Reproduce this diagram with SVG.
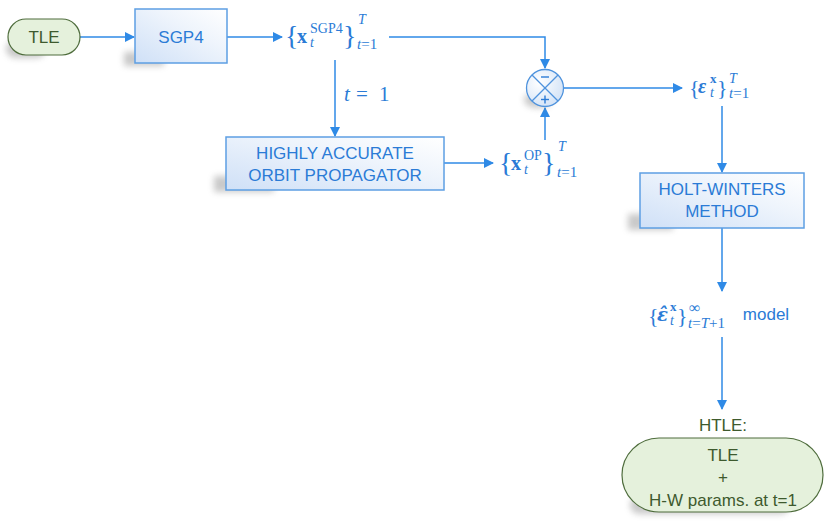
<svg xmlns="http://www.w3.org/2000/svg" width="831" height="521" viewBox="0 0 831 521">
<defs>
<linearGradient id="boxg" x1="0" y1="1" x2="1" y2="0">
<stop offset="0" stop-color="#cfe0f7"/>
<stop offset="0.6" stop-color="#eef4fc"/>
<stop offset="1" stop-color="#ffffff"/>
</linearGradient>
<radialGradient id="circg" cx="0.35" cy="0.35" r="0.7">
<stop offset="0" stop-color="#ffffff"/>
<stop offset="1" stop-color="#d3e3f7"/>
</radialGradient>
<filter id="sh" x="-30%" y="-50%" width="160%" height="200%">
<feGaussianBlur stdDeviation="3"/>
</filter>
<marker id="ah" viewBox="0 0 10 10" refX="9" refY="5" markerWidth="10" markerHeight="10" markerUnits="userSpaceOnUse" orient="auto">
<path d="M0,0 L10,5 L0,10 z" fill="#2f8ae6"/>
</marker>
</defs>
<style>
.box{fill:url(#boxg);stroke:#5d9fe3;stroke-width:1.5}
.pill{fill:#e5f1dc;stroke:#4f6d3d;stroke-width:1.2}
.sh{fill:#666;opacity:0.35;filter:url(#sh)}
.lbl{font-family:"Liberation Sans",Arial,sans-serif;font-size:17px;fill:#2b7bd6;text-anchor:middle}
.glbl{font-family:"Liberation Sans",Arial,sans-serif;font-size:17px;fill:#3e5a2e;text-anchor:middle}
.m{font-family:"Liberation Serif","DejaVu Serif",serif;fill:#2b7bd6}
.c{fill:none;stroke:#2f8ae6;stroke-width:1.5}
</style>

<g id="connectors">
<line class="c" x1="80" y1="37" x2="134" y2="37" marker-end="url(#ah)"/>
<line class="c" x1="227" y1="37" x2="282" y2="37" marker-end="url(#ah)"/>
<polyline class="c" points="389,37 545,37 545,68" marker-end="url(#ah)"/>
<line class="c" x1="335" y1="60" x2="335" y2="136" marker-end="url(#ah)"/>
<line class="c" x1="444" y1="163" x2="493" y2="163" marker-end="url(#ah)"/>
<line class="c" x1="545" y1="140" x2="545" y2="108" marker-end="url(#ah)"/>
<line class="c" x1="564" y1="88" x2="682" y2="88" marker-end="url(#ah)"/>
<line class="c" x1="722" y1="106" x2="722" y2="172" marker-end="url(#ah)"/>
<line class="c" x1="722" y1="228" x2="722" y2="291" marker-end="url(#ah)"/>
<line class="c" x1="722" y1="337" x2="722" y2="409" marker-end="url(#ah)"/>
</g>

<g id="tle">
<rect class="sh" x="6" y="40" width="40" height="18" rx="9"/>
<rect class="pill" x="8" y="19" width="72" height="36" rx="18"/>
<text class="glbl" x="44" y="43">TLE</text>
</g>

<g id="sgp4">
<rect class="sh" x="124" y="52" width="40" height="14"/>
<rect class="box" x="135" y="9" width="92" height="54"/>
<text class="lbl" x="181" y="43">SGP4</text>
</g>

<g id="xsgp4">
<text class="m" x="285" y="45" font-size="28">{</text>
<text class="m" x="297" y="43" font-size="20" font-weight="bold">x</text>
<text class="m" x="310" y="33" font-size="14">SGP4</text>
<text class="m" x="310" y="47" font-size="14" font-style="italic">t</text>
<text class="m" x="343" y="45" font-size="28">}</text>
<text class="m" x="358" y="24" font-size="14" font-style="italic">T</text>
<text class="m" x="357" y="49" font-size="15"><tspan font-style="italic">t</tspan>=1</text>
</g>

<g id="t1">
<text class="m" x="344" y="101" font-size="21" font-style="italic">t</text>
<text class="m" x="356" y="101" font-size="21">=</text>
<text class="m" x="379" y="101" font-size="21">1</text>
</g>

<g id="haop">
<rect class="sh" x="214" y="176" width="60" height="16"/>
<rect class="box" x="226" y="137" width="218" height="53"/>
<text class="lbl" x="335" y="159">HIGHLY ACCURATE</text>
<text class="lbl" x="335" y="181">ORBIT PROPAGATOR</text>
</g>

<g id="xop">
<text class="m" x="499" y="172" font-size="28">{</text>
<text class="m" x="511" y="170" font-size="20" font-weight="bold">x</text>
<text class="m" x="524" y="160" font-size="14">OP</text>
<text class="m" x="524" y="174" font-size="14" font-style="italic">t</text>
<text class="m" x="542" y="172" font-size="28">}</text>
<text class="m" x="558" y="151" font-size="14" font-style="italic">T</text>
<text class="m" x="557" y="177" font-size="15"><tspan font-style="italic">t</tspan>=1</text>
</g>

<g id="sum">
<ellipse class="sh" cx="538" cy="100" rx="14" ry="8"/>
<circle cx="545" cy="88" r="18.5" fill="url(#circg)" stroke="#4f93dd" stroke-width="1.3"/>
<line x1="532" y1="75" x2="558" y2="101" stroke="#4f93dd" stroke-width="1.2"/>
<line x1="558" y1="75" x2="532" y2="101" stroke="#4f93dd" stroke-width="1.2"/>
<line x1="541" y1="77" x2="549" y2="77" stroke="#2b7bd6" stroke-width="1.4"/>
<line x1="541" y1="99.5" x2="549" y2="99.5" stroke="#2b7bd6" stroke-width="1.4"/>
<line x1="545" y1="95.5" x2="545" y2="103.5" stroke="#2b7bd6" stroke-width="1.4"/>
</g>

<g id="eps">
<text class="m" x="689" y="95" font-size="22">{</text>
<text class="m" x="698" y="93" font-size="20" font-weight="bold" font-style="italic">ε</text>
<text class="m" x="710" y="83" font-size="13" font-weight="bold">x</text>
<text class="m" x="710" y="97" font-size="14" font-style="italic">t</text>
<text class="m" x="717" y="95" font-size="22">}</text>
<text class="m" x="729" y="83" font-size="14" font-style="italic">T</text>
<text class="m" x="729" y="98" font-size="15"><tspan font-style="italic">t</tspan>=1</text>
</g>

<g id="hw">
<rect class="sh" x="628" y="214" width="45" height="16"/>
<rect class="box" x="640" y="173" width="164" height="55"/>
<text class="lbl" x="722" y="195">HOLT-WINTERS</text>
<text class="lbl" x="722" y="217">METHOD</text>
</g>

<g id="epshat">
<text class="m" x="648" y="323" font-size="22">{</text>
<text x="657" y="321" font-size="18" font-weight="bold" font-style="italic" fill="#2b7bd6" font-family="'DejaVu Serif',serif">ε̂</text>
<text class="m" x="670" y="311" font-size="13" font-weight="bold">x</text>
<text class="m" x="670" y="325" font-size="14" font-style="italic">t</text>
<text class="m" x="677" y="323" font-size="22">}</text>
<text class="m" x="689" y="313" font-size="16">∞</text>
<text class="m" x="688" y="328" font-size="15"><tspan font-style="italic">t</tspan>=<tspan font-style="italic">T</tspan>+1</text>
<text class="lbl" x="766" y="320">model</text>
</g>

<g id="htle">
<text class="glbl" x="723" y="431">HTLE:</text>
<rect class="sh" x="630" y="496" width="160" height="18" rx="9"/>
<rect class="pill" x="622" y="438" width="201" height="74" rx="37"/>
<text class="glbl" x="723" y="461">TLE</text>
<text class="glbl" x="723" y="483">+</text>
<text class="glbl" x="723" y="506">H-W params. at t=1</text>
</g>
</svg>
